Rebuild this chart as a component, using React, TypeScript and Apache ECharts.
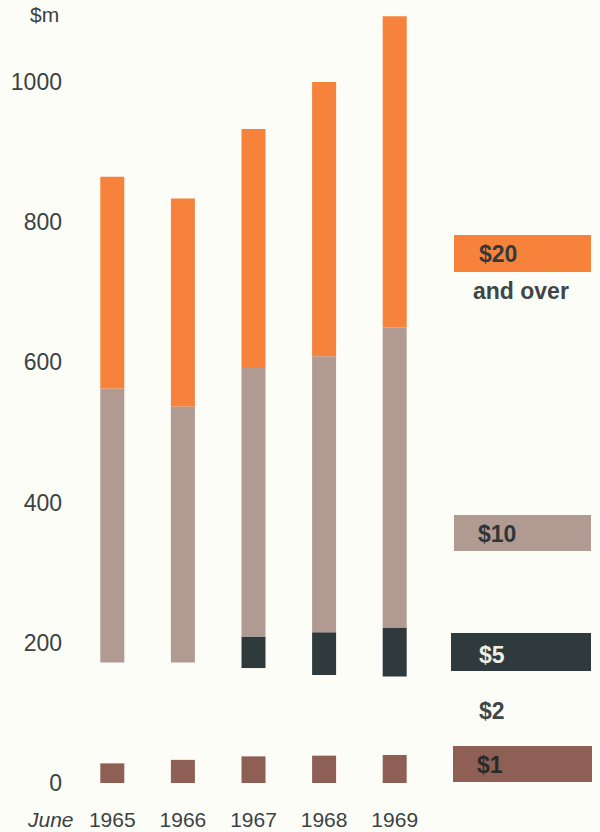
import React, { useRef, useEffect } from 'react';
import * as echarts from 'echarts';

// 流通中各面额纸币金额（百万元），六月数据
const years = ['1965', '1966', '1967', '1968', '1969'];
const note1 = [28, 33, 38, 39, 40];
const note2 = [144, 139, 126, 115, 112];
const note5 = [0, 0, 45, 61, 70];
const note10 = [391, 365, 383, 394, 428];
const note20 = [302, 297, 341, 391, 444];
const yTicks = [0, 200, 400, 600, 800, 1000];

const FONT = '"Liberation Sans", Arial, sans-serif';
const TEXT = '#3a4244';

const App: React.FC = () => {
  const chartRef = useRef<HTMLDivElement>(null);

  useEffect(() => {
    document.body.style.margin = '0';
    if (!chartRef.current) return;
    const chart = echarts.init(chartRef.current, undefined, { renderer: 'svg' });

    const bar = (name: string, data: number[], color: string) => ({
      name,
      type: 'bar',
      stack: 'notes',
      barWidth: 24,
      data,
      itemStyle: { color },
    });

    const legendText = (text: string, x: number, y: number, fill: string, size = 23) => ({
      type: 'text',
      x,
      y,
      style: {
        text,
        fill,
        font: `bold ${size}px ${FONT}`,
        textVerticalAlign: 'middle',
      },
    });

    const option = {
      animation: false,
      backgroundColor: '#fdfdf8',
      grid: { left: 77, right: 170, top: 12, bottom: 49 },
      xAxis: {
        type: 'category',
        data: years,
        axisLine: { show: false },
        axisTick: { show: false },
        axisLabel: { color: TEXT, fontSize: 21, fontFamily: FONT, margin: 26 },
      },
      yAxis: {
        type: 'value',
        min: 0,
        max: 1100,
        interval: 100,
        splitLine: { show: false },
        axisLine: { show: false },
        axisTick: { show: false },
        axisLabel: {
          color: TEXT,
          fontSize: 23,
          fontFamily: FONT,
          margin: 15,
          formatter: (v: number) => (yTicks.includes(v) ? String(v) : ''),
        },
      },
      series: [
        bar('$1', note1, '#8d5f55'),
        bar('$2', note2, 'rgba(0,0,0,0)'),
        bar('$5', note5, '#2f3a3d'),
        bar('$10', note10, '#b09a92'),
        bar('$20 and over', note20, '#f7823c'),
      ],
      graphic: [
        {
          type: 'text',
          x: 30,
          y: 14,
          style: { text: '$m', fill: TEXT, font: `21px ${FONT}`, textVerticalAlign: 'middle' },
        },
        {
          type: 'text',
          x: 28,
          y: 819,
          style: { text: 'June', fill: TEXT, font: `italic 21px ${FONT}`, textVerticalAlign: 'middle' },
        },
        { type: 'rect', shape: { x: 454, y: 235, width: 137, height: 37 }, style: { fill: '#f7823c' } },
        legendText('$20', 479, 254, '#333a3c'),
        legendText('and over', 473, 291, '#3f4648'),
        { type: 'rect', shape: { x: 454, y: 515, width: 137, height: 36 }, style: { fill: '#b09a92' } },
        legendText('$10', 478, 534, '#2e3638'),
        { type: 'rect', shape: { x: 451, y: 633, width: 140, height: 38 }, style: { fill: '#2f3a3d' } },
        legendText('$5', 479, 655, '#eeeee0'),
        legendText('$2', 479, 711, '#3f4648'),
        { type: 'rect', shape: { x: 453, y: 746, width: 139, height: 36 }, style: { fill: '#8d5f55' } },
        legendText('$1', 477, 765, '#2b2a2a'),
      ],
    };
    chart.setOption(option);

    return () => {
      chart.dispose();
    };
  }, []);

  return <div ref={chartRef} style={{ width: 600, height: 832 }} />;
};

export default App;
